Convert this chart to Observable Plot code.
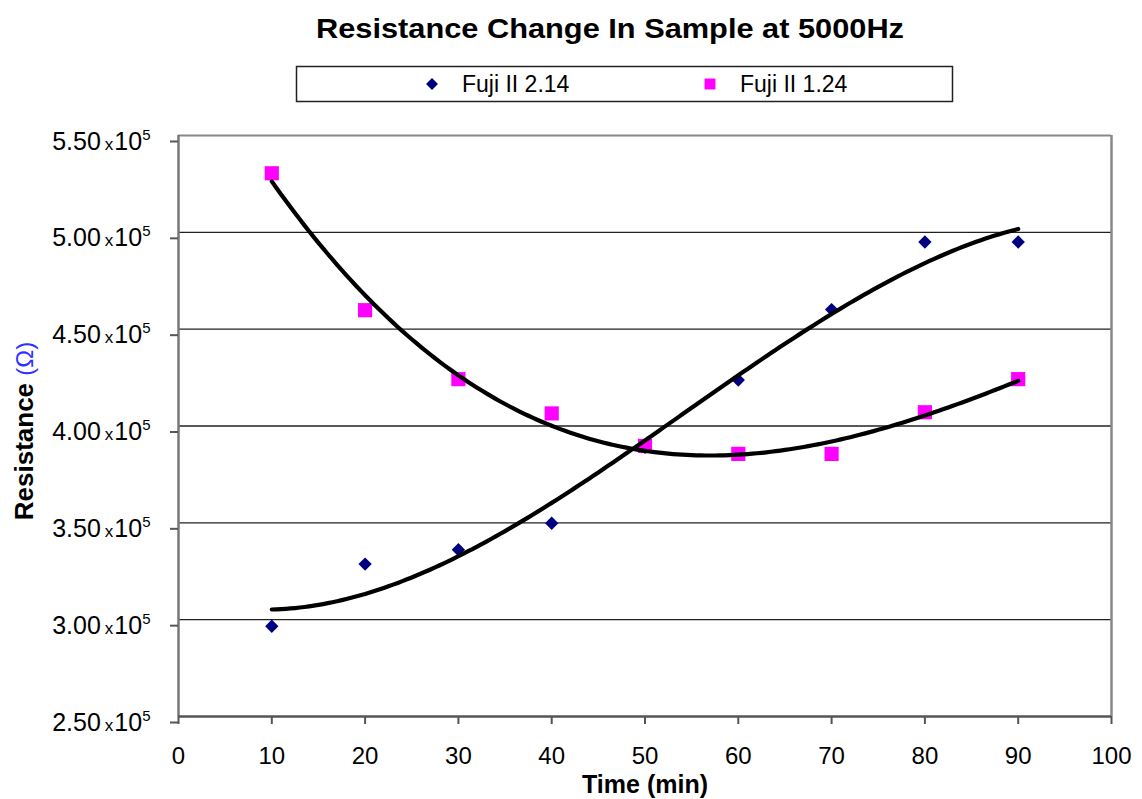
<!DOCTYPE html>
<html>
<head>
<meta charset="utf-8">
<script src="https://cdn.jsdelivr.net/npm/d3@7"></script>
<script src="https://cdn.jsdelivr.net/npm/@observablehq/plot@0.6"></script>
<style>
  html, body { margin: 0; padding: 0; background: #fff; }
  #wrap { position: relative; width: 1142px; height: 799px; font-family: Arial, "Liberation Sans", sans-serif; }
  #header { display: block; }
  #chart svg { display: block; }
</style>
</head>
<body>
<div id="wrap">
  <svg id="header" width="1142" height="110"></svg>
  <div id="chart"></div>
</div>
<script>
// ---- data ----
const title = "Resistance Change In Sample at 5000Hz";
const seriesNames = ["Fuji II 2.14", "Fuji II 1.24"];
const seriesColors = ["#000080", "#ff00ff"];
const times = [10, 20, 30, 40, 50, 60, 70, 80, 90];           // minutes
const fuji214 = [2.966, 3.287, 3.361, 3.498, 3.89, 4.237, 4.601, 4.95, 4.95];   // x10^5 ohm
const fuji124 = [5.305, 4.598, 4.242, 4.065, 3.897, 3.856, 3.856, 4.071, 4.242]; // x10^5 ohm
const xTicks = [0, 10, 20, 30, 40, 50, 60, 70, 80, 90, 100];
const yTicks = [2.5, 3.0, 3.5, 4.0, 4.5, 5.0, 5.5];
const xLabel = "Time (min)";
const yLabelMain = "Resistance";
const yLabelUnit = "(\u03A9)";

// ---- tables ----
const points = [
  ...times.map((t, i) => ({time: t, value: fuji214[i], series: seriesNames[0]})),
  ...times.map((t, i) => ({time: t, value: fuji124[i], series: seriesNames[1]}))
];

// cubic least-squares trendline (like a spreadsheet polynomial trendline, order 3)
function polyFit(xs, ys, order) {
  const n = order + 1;
  const A = Array.from({length: n}, () => new Array(n + 1).fill(0));
  xs.forEach((x0, k) => {
    const x = x0 / 100;
    for (let i = 0; i < n; i++) {
      for (let j = 0; j < n; j++) A[i][j] += Math.pow(x, i + j);
      A[i][n] += ys[k] * Math.pow(x, i);
    }
  });
  for (let c = 0; c < n; c++) {
    let p = c;
    for (let r = c + 1; r < n; r++) if (Math.abs(A[r][c]) > Math.abs(A[p][c])) p = r;
    [A[c], A[p]] = [A[p], A[c]];
    for (let r = 0; r < n; r++) {
      if (r === c) continue;
      const f = A[r][c] / A[c][c];
      for (let k = c; k <= n; k++) A[r][k] -= f * A[c][k];
    }
  }
  const coef = A.map((row, i) => row[n] / row[i]);
  return x0 => { const x = x0 / 100; return coef.reduce((s, c, i) => s + c * Math.pow(x, i), 0); };
}
function trend(ys, name) {
  const f = polyFit(times, ys, 3);
  const out = [];
  const lo = d3.min(times), hi = d3.max(times);
  for (let t = lo; t <= hi + 1e-9; t += 0.5) out.push({time: t, value: f(t), series: name});
  return out;
}
const trend214 = trend(fuji214, seriesNames[0]);
const trend124 = trend(fuji124, seriesNames[1]);

// ---- header: title + legend ----
const header = d3.select("#header");
header.append("text")
  .attr("x", 610).attr("y", 38)
  .attr("text-anchor", "middle")
  .attr("font-family", "Arial, 'Liberation Sans', sans-serif")
  .attr("font-weight", "bold").attr("font-size", 28)
  .attr("textLength", 588).attr("lengthAdjust", "spacingAndGlyphs")
  .attr("fill", "#000")
  .text(title);
header.append("rect")
  .attr("x", 296.5).attr("y", 66.5).attr("width", 656).attr("height", 35)
  .attr("fill", "#fff").attr("stroke", "#222").attr("stroke-width", 1.5);
const legendX = [432, 710];
seriesNames.forEach((name, i) => {
  const g = header.append("g");
  const sym = i === 0 ? d3.symbol(d3.symbolDiamond2, 90) : d3.symbol(d3.symbolSquare, 120);
  g.append("path").attr("d", sym()).attr("transform", `translate(${legendX[i]},84)`).attr("fill", seriesColors[i]);
  g.append("text").attr("x", legendX[i] + 30).attr("y", 92)
    .attr("font-family", "Arial, 'Liberation Sans', sans-serif")
    .attr("font-size", 23).attr("fill", "#000").text(name);
});

// ---- chart ----
const chart = Plot.plot({
  width: 1142,
  height: 689,
  marginLeft: 178,
  marginRight: 31,
  marginTop: 25,
  marginBottom: 83,
  style: {fontFamily: "Arial, 'Liberation Sans', sans-serif", background: "#fff", color: "#000", overflow: "visible"},
  x: {domain: [0, 100]},
  y: {domain: [2.5, 5.5]},
  marks: [
    Plot.ruleY(yTicks.filter(v => v > 2.5 && v < 5.5), {stroke: "#222", strokeWidth: 1.3}),
    Plot.ruleY([5.5], {stroke: "#888", strokeWidth: 2}),
    Plot.ruleX([100], {stroke: "#888", strokeWidth: 2.5}),
    Plot.ruleX([0], {stroke: "#777", strokeWidth: 2.5}),
    Plot.ruleY([2.5], {stroke: "#555", strokeWidth: 2.5}),
    Plot.axisX({ticks: xTicks, tickSize: 8, tickPadding: 22, fontSize: 24, label: null,
      tickFormat: d => String(d), stroke: "#555", strokeWidth: 2, strokeOpacity: 1}),
    Plot.axisY({ticks: yTicks, tickSize: 8, tickPadding: 20, fontSize: 25, label: null, dy: 6,
      tickFormat: d => d.toFixed(2), stroke: "#555", strokeWidth: 2, strokeOpacity: 1}),
    Plot.dot(points.filter(d => d.series === seriesNames[0]),
      {x: "time", y: "value", symbol: "diamond2", r: 6, fill: seriesColors[0], stroke: "none"}),
    Plot.dot(points.filter(d => d.series === seriesNames[1]),
      {x: "time", y: "value", symbol: "square", r: 8, fill: seriesColors[1], stroke: "none"}),
    Plot.line(trend214, {x: "time", y: "value", stroke: "#000", strokeWidth: 4.2, curve: "linear"}),
    Plot.line(trend124, {x: "time", y: "value", stroke: "#000", strokeWidth: 4.2, curve: "linear"}),
    Plot.text([xLabel], {frameAnchor: "bottom", dy: 76, fontSize: 25, fontWeight: "bold", fill: "#000", lineAnchor: "bottom"})
  ]
});
document.getElementById("chart").appendChild(chart);

// y tick labels: "5.50 x10^5"
d3.select(chart).selectAll('g[aria-label="y-axis tick label"] text').each(function() {
  const t = d3.select(this);
  const v = t.text();
  t.text(null);
  t.append("tspan").attr("font-size", 25).text(v);
  t.append("tspan").attr("font-size", 17).attr("dx", 4).text("x");
  t.append("tspan").attr("font-size", 25).attr("dx", 1).text("10");
  t.append("tspan").attr("font-size", 15).attr("dy", -10).text("5");
});

// y axis label with coloured unit
const ylab = d3.select(chart).append("text")
  .attr("transform", "translate(33,321) rotate(-90)")
  .attr("text-anchor", "middle")
  .attr("font-family", "Arial, 'Liberation Sans', sans-serif")
  .attr("font-size", 26);
ylab.append("tspan").attr("font-weight", "bold").attr("fill", "#000").text(yLabelMain + " ");
ylab.append("tspan").attr("fill", "#3030ff").attr("font-size", 24).text(yLabelUnit);
</script>
</body>
</html>
